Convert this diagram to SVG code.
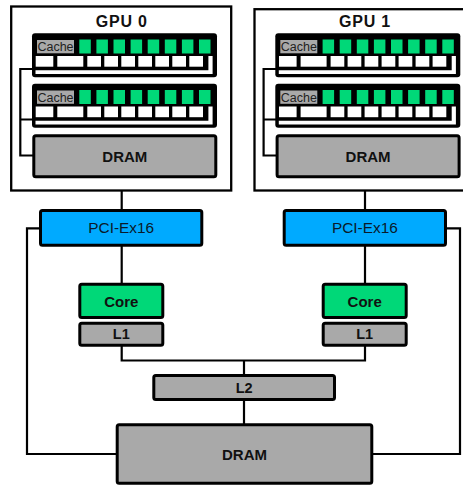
<svg xmlns="http://www.w3.org/2000/svg" width="463" height="485" viewBox="0 0 463 485">
<style>
.gpu{fill:#fff;stroke:#000;stroke-width:2.3}
.box{stroke:#000;stroke-width:3}
.gray{fill:#a9a9a9}
.green{fill:#00d878}
.blue{fill:#00aaff}
.wh{fill:#fff}
.lbl{font-family:"Liberation Sans",Arial,sans-serif;font-weight:bold;fill:#111;text-anchor:middle}
.pci{font-family:"Liberation Sans",Arial,sans-serif;font-size:15.4px;fill:#0a1a2a;text-anchor:middle}
.cache{font-family:"Liberation Sans",Arial,sans-serif;font-size:12.5px;fill:#222;text-anchor:middle}
.wire{fill:none;stroke:#000;stroke-width:2.2}
</style>
<rect width="463" height="485" fill="#fff"/>

<g id="gpu0">
  <rect class="gpu" x="11.2" y="6.5" width="220" height="184"/>
  <text class="lbl" x="121.7" y="26.7" font-size="16" letter-spacing="0.8">GPU 0</text>
</g>
<g id="gpu1">
  <rect class="gpu" x="254.5" y="9.2" width="220" height="181.3"/>
  <text class="lbl" x="365" y="26.7" font-size="16" letter-spacing="0.8">GPU 1</text>
</g>

<g id="connectors">
  <path class="wire" d="M33,69 H20.3 V155.5 H34 M33,119.5 H20.3"/>
  <path class="wire" d="M276.3,69 H263.6 V155.5 H277.3 M276.3,119.5 H263.6"/>
  <path class="wire" d="M121.7,190.5 V210"/>
  <path class="wire" d="M365,190.5 V210"/>
  <path class="wire" d="M121.7,246 V284"/>
  <path class="wire" d="M365,246 V284"/>
  <path class="wire" d="M121.7,346 V360.5 H365 V346"/>
  <path class="wire" d="M244,360.5 V375"/>
  <path class="wire" d="M244,400 V424"/>
  <path class="wire" d="M40,228.3 H27 V454 H117"/>
  <path class="wire" d="M446,228.3 H460 V454 H372"/>
</g>

<g id="sm0a" transform="translate(32,33.3)">
  <rect x="0" y="0" width="185" height="44" rx="3" fill="#000"/>
  <rect class="gray" x="5" y="6.7" width="37" height="13.3"/>
  <text class="cache" x="23.5" y="17.9">Cache</text>
  <rect class="green" x="47.3" y="6.2" width="11.5" height="14"/>
  <rect class="green" x="64.4" y="6.2" width="11.5" height="14"/>
  <rect class="green" x="81.5" y="6.2" width="11.5" height="14"/>
  <rect class="green" x="98.6" y="6.2" width="11.5" height="14"/>
  <rect class="green" x="115.7" y="6.2" width="11.5" height="14"/>
  <rect class="green" x="132.8" y="6.2" width="11.5" height="14"/>
  <rect class="green" x="149.9" y="6.2" width="11.5" height="14"/>
  <rect class="green" x="167" y="6.2" width="11.5" height="14"/>
  <rect class="wh" x="3.7" y="22.7" width="17.6" height="10.7"/>
  <rect class="wh" x="25.3" y="22.7" width="26" height="10.7"/>
  <rect class="wh" x="55.3" y="22.7" width="13.7" height="10.7"/>
  <rect class="wh" x="72.3" y="22.7" width="13.7" height="10.7"/>
  <rect class="wh" x="89.3" y="22.7" width="13.7" height="10.7"/>
  <rect class="wh" x="106.3" y="22.7" width="13.7" height="10.7"/>
  <rect class="wh" x="123.3" y="22.7" width="13.7" height="10.7"/>
  <rect class="wh" x="140.3" y="22.7" width="13.7" height="10.7"/>
  <rect class="wh" x="157.3" y="22.7" width="13.7" height="10.7"/>
  <path class="wh" d="M176.4,22.7 H180.6 V40.7 H3.5 V37 H176.4 Z"/>
</g>
<g id="sm0b" transform="translate(32,83.8)">
  <rect x="0" y="0" width="185" height="44" rx="3" fill="#000"/>
  <rect class="gray" x="5" y="6.7" width="37" height="13.3"/>
  <text class="cache" x="23.5" y="17.9">Cache</text>
  <rect class="green" x="47.3" y="6.2" width="11.5" height="14"/>
  <rect class="green" x="64.4" y="6.2" width="11.5" height="14"/>
  <rect class="green" x="81.5" y="6.2" width="11.5" height="14"/>
  <rect class="green" x="98.6" y="6.2" width="11.5" height="14"/>
  <rect class="green" x="115.7" y="6.2" width="11.5" height="14"/>
  <rect class="green" x="132.8" y="6.2" width="11.5" height="14"/>
  <rect class="green" x="149.9" y="6.2" width="11.5" height="14"/>
  <rect class="green" x="167" y="6.2" width="11.5" height="14"/>
  <rect class="wh" x="3.7" y="22.7" width="17.6" height="10.7"/>
  <rect class="wh" x="25.3" y="22.7" width="26" height="10.7"/>
  <rect class="wh" x="55.3" y="22.7" width="13.7" height="10.7"/>
  <rect class="wh" x="72.3" y="22.7" width="13.7" height="10.7"/>
  <rect class="wh" x="89.3" y="22.7" width="13.7" height="10.7"/>
  <rect class="wh" x="106.3" y="22.7" width="13.7" height="10.7"/>
  <rect class="wh" x="123.3" y="22.7" width="13.7" height="10.7"/>
  <rect class="wh" x="140.3" y="22.7" width="13.7" height="10.7"/>
  <rect class="wh" x="157.3" y="22.7" width="13.7" height="10.7"/>
  <path class="wh" d="M176.4,22.7 H180.6 V40.7 H3.5 V37 H176.4 Z"/>
</g>
<g id="sm1a" transform="translate(275.3,33.3)">
  <rect x="0" y="0" width="185" height="44" rx="3" fill="#000"/>
  <rect class="gray" x="5" y="6.7" width="37" height="13.3"/>
  <text class="cache" x="23.5" y="17.9">Cache</text>
  <rect class="green" x="47.3" y="6.2" width="11.5" height="14"/>
  <rect class="green" x="64.4" y="6.2" width="11.5" height="14"/>
  <rect class="green" x="81.5" y="6.2" width="11.5" height="14"/>
  <rect class="green" x="98.6" y="6.2" width="11.5" height="14"/>
  <rect class="green" x="115.7" y="6.2" width="11.5" height="14"/>
  <rect class="green" x="132.8" y="6.2" width="11.5" height="14"/>
  <rect class="green" x="149.9" y="6.2" width="11.5" height="14"/>
  <rect class="green" x="167" y="6.2" width="11.5" height="14"/>
  <rect class="wh" x="3.7" y="22.7" width="17.6" height="10.7"/>
  <rect class="wh" x="25.3" y="22.7" width="26" height="10.7"/>
  <rect class="wh" x="55.3" y="22.7" width="13.7" height="10.7"/>
  <rect class="wh" x="72.3" y="22.7" width="13.7" height="10.7"/>
  <rect class="wh" x="89.3" y="22.7" width="13.7" height="10.7"/>
  <rect class="wh" x="106.3" y="22.7" width="13.7" height="10.7"/>
  <rect class="wh" x="123.3" y="22.7" width="13.7" height="10.7"/>
  <rect class="wh" x="140.3" y="22.7" width="13.7" height="10.7"/>
  <rect class="wh" x="157.3" y="22.7" width="13.7" height="10.7"/>
  <path class="wh" d="M176.4,22.7 H180.6 V40.7 H3.5 V37 H176.4 Z"/>
</g>
<g id="sm1b" transform="translate(275.3,83.8)">
  <rect x="0" y="0" width="185" height="44" rx="3" fill="#000"/>
  <rect class="gray" x="5" y="6.7" width="37" height="13.3"/>
  <text class="cache" x="23.5" y="17.9">Cache</text>
  <rect class="green" x="47.3" y="6.2" width="11.5" height="14"/>
  <rect class="green" x="64.4" y="6.2" width="11.5" height="14"/>
  <rect class="green" x="81.5" y="6.2" width="11.5" height="14"/>
  <rect class="green" x="98.6" y="6.2" width="11.5" height="14"/>
  <rect class="green" x="115.7" y="6.2" width="11.5" height="14"/>
  <rect class="green" x="132.8" y="6.2" width="11.5" height="14"/>
  <rect class="green" x="149.9" y="6.2" width="11.5" height="14"/>
  <rect class="green" x="167" y="6.2" width="11.5" height="14"/>
  <rect class="wh" x="3.7" y="22.7" width="17.6" height="10.7"/>
  <rect class="wh" x="25.3" y="22.7" width="26" height="10.7"/>
  <rect class="wh" x="55.3" y="22.7" width="13.7" height="10.7"/>
  <rect class="wh" x="72.3" y="22.7" width="13.7" height="10.7"/>
  <rect class="wh" x="89.3" y="22.7" width="13.7" height="10.7"/>
  <rect class="wh" x="106.3" y="22.7" width="13.7" height="10.7"/>
  <rect class="wh" x="123.3" y="22.7" width="13.7" height="10.7"/>
  <rect class="wh" x="140.3" y="22.7" width="13.7" height="10.7"/>
  <rect class="wh" x="157.3" y="22.7" width="13.7" height="10.7"/>
  <path class="wh" d="M176.4,22.7 H180.6 V40.7 H3.5 V37 H176.4 Z"/>
</g>

<g id="gpu0-dram">
  <rect class="box gray" x="33.8" y="135.8" width="182" height="41" rx="2"/>
  <text class="lbl" x="124.8" y="162" font-size="15">DRAM</text>
</g>
<g id="gpu1-dram">
  <rect class="box gray" x="277.1" y="135.8" width="182" height="41" rx="2"/>
  <text class="lbl" x="368.1" y="162" font-size="15">DRAM</text>
</g>

<g id="pci0">
  <rect class="box blue" x="40.5" y="210.5" width="161.3" height="34.7" rx="2"/>
  <text class="pci" x="121.2" y="233.3">PCI-Ex16</text>
</g>
<g id="pci1">
  <rect class="box blue" x="284.2" y="210.5" width="161.3" height="34.7" rx="2"/>
  <text class="pci" x="364.9" y="233.3">PCI-Ex16</text>
</g>

<g id="core0">
  <rect class="box green" x="79.8" y="284.2" width="83" height="33.3" rx="2"/>
  <text class="lbl" x="121.3" y="306.7" font-size="15">Core</text>
</g>
<g id="l1-0">
  <rect class="box gray" x="79.8" y="323.2" width="83" height="22" rx="2"/>
  <text class="lbl" x="121.3" y="339.3" font-size="14.5">L1</text>
</g>
<g id="core1">
  <rect class="box green" x="323.2" y="284.2" width="83" height="33.3" rx="2"/>
  <text class="lbl" x="364.7" y="306.7" font-size="15">Core</text>
</g>
<g id="l1-1">
  <rect class="box gray" x="323.2" y="323.2" width="83" height="22" rx="2"/>
  <text class="lbl" x="364.7" y="339.3" font-size="14.5">L1</text>
</g>

<g id="l2">
  <rect class="box gray" x="153.8" y="375.5" width="180.7" height="24" rx="2"/>
  <text class="lbl" x="244.2" y="393.3" font-size="14.5">L2</text>
</g>
<g id="dram">
  <rect class="box gray" x="117.2" y="424.8" width="254.6" height="58.5" rx="2"/>
  <text class="lbl" x="244.5" y="460" font-size="15">DRAM</text>
</g>
</svg>
